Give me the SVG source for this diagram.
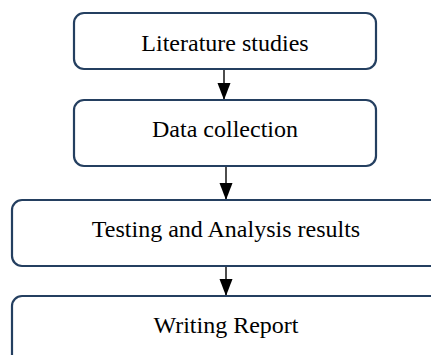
<svg xmlns="http://www.w3.org/2000/svg" width="431" height="355" viewBox="0 0 431 355">
<style>
.box{fill:#ffffff;stroke:#243f60;stroke-width:2.2}
.lbl{font-family:"Liberation Serif","Times New Roman",serif;font-size:24px;fill:#000000;text-anchor:middle}
.conn{stroke:#000000;stroke-width:1.4;fill:none}
</style>
<defs>
<marker id="ah" markerUnits="userSpaceOnUse" markerWidth="17" markerHeight="14" refX="17" refY="7" orient="auto" viewBox="0 0 17 14">
<path d="M0,0.5 L17,7 L0,13.5 Z" fill="#000000"/>
</marker>
</defs>
<rect width="431" height="355" fill="#ffffff"/>
<g id="connectors">
<line class="conn" x1="224" y1="69" x2="224" y2="100" marker-end="url(#ah)"/>
<line class="conn" x1="226" y1="166" x2="226" y2="200" marker-end="url(#ah)"/>
<line class="conn" x1="226" y1="263" x2="226" y2="296" marker-end="url(#ah)"/>
</g>
<g id="node-literature">
<rect class="box" x="74" y="13" width="302" height="56" rx="10"/>
<text class="lbl" x="225" y="51">Literature studies</text>
</g>
<g id="node-data">
<rect class="box" x="74" y="100" width="302" height="66" rx="10"/>
<text class="lbl" x="225" y="137">Data collection</text>
</g>
<g id="node-testing">
<rect class="box" x="12" y="200" width="440" height="66" rx="10"/>
<text class="lbl" x="226" y="237">Testing and Analysis results</text>
</g>
<g id="node-writing">
<rect class="box" x="12" y="296" width="440" height="80" rx="10"/>
<text class="lbl" x="226" y="333">Writing Report</text>
</g>
</svg>
